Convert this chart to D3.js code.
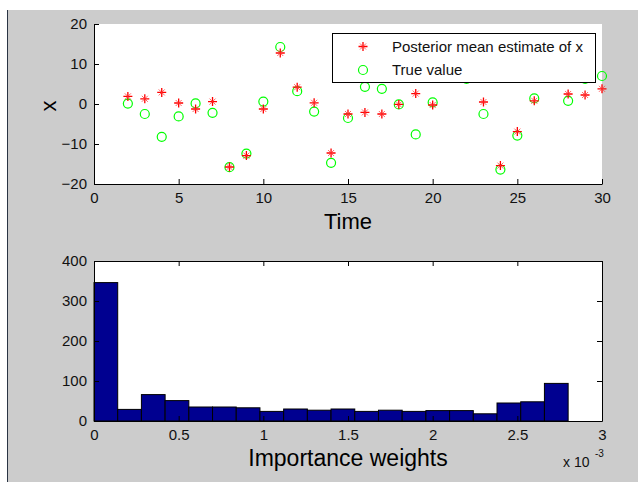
<!DOCTYPE html>
<html>
<head>
<meta charset="utf-8">
<script src="https://cdn.jsdelivr.net/npm/d3@7"></script>
<style>
  body { margin: 0; background: #fff; }
  svg { display: block; font-family: "Liberation Sans", Arial, sans-serif; }
</style>
</head>
<body>
<div id="chart"></div>
<script>
// Top panel: particle filter estimate vs. true state
const time     = [2, 3, 4, 5, 6, 7, 8, 9, 10, 11, 12, 13, 14, 15, 16, 17, 18, 19, 20, 21, 22, 23, 24, 25, 26, 27, 28, 29, 30];
const estimate = [1.9, 1.3, 2.9, 0.25, -1.25, 0.6, -15.75, -12.9, -1.25, 12.75, 4.2, 0.3, -12.25, -2.5, -2.1, -2.5, -0.1, 2.6, -0.25, 9, 7.5, 0.5, -15.4, -6.9, 0.8, 7, 2.5, 2.25, 3.8];
const truth    = [0.1, -2.5, -8.2, -3.1, 0.15, -2.2, -15.8, -12.4, 0.6, 14.25, 3.2, -1.9, -14.7, -3.5, 4.3, 3.8, -0.1, -7.6, 0.4, 10, 6.3, -2.5, -16.4, -7.9, 1.4, 8, 0.8, 6.3, 7.0];
const timeTicks = [0, 5, 10, 15, 20, 25, 30];
const xTicks    = [-20, -10, 0, 10, 20];

// Bottom panel: histogram of importance weights (edges in units of 1e-3)
const binEdges = [0, 0.14, 0.28, 0.42, 0.56, 0.70, 0.84, 0.98, 1.12, 1.26, 1.40, 1.54, 1.68, 1.82, 1.96, 2.10, 2.24, 2.38, 2.52, 2.66, 2.80];
const counts   = [346, 29, 66, 51, 35, 35, 33, 24, 30, 27, 30, 24, 27, 24, 26, 26, 18, 45, 48, 94];
const weightTicks = [0, 0.5, 1, 1.5, 2, 2.5, 3];
const countTicks  = [0, 100, 200, 300, 400];

const W = 638, H = 482;
const fmt = d3.format('~g');

const svg = d3.select('#chart').append('svg')
  .attr('width', W).attr('height', H);

// figure background
svg.append('rect').attr('width', W).attr('height', H).attr('fill', '#fff');
svg.append('rect').attr('x', 8).attr('y', 10).attr('width', W - 8).attr('height', H - 10).attr('fill', '#cccccc');
svg.append('line').attr('x1', 7.5).attr('x2', 7.5).attr('y1', 10).attr('y2', H)
  .attr('stroke', '#2a3444').attr('stroke-width', 1);

function styleAxis(g) {
  g.select('.domain').attr('stroke', '#000');
  g.selectAll('.tick line').attr('stroke', '#000');
  g.selectAll('.tick text').attr('fill', '#111').attr('font-size', 15);
  g.attr('font-family', null);
}

// ---------- top panel ----------
const xT = d3.scaleLinear().domain([0, 30]).range([94, 602]);
const yT = d3.scaleLinear().domain([-20, 20]).range([184, 24]);

svg.append('rect')
  .attr('x', xT(0)).attr('y', yT(20))
  .attr('width', xT(30) - xT(0)).attr('height', yT(-20) - yT(20))
  .attr('fill', '#fff');

svg.append('g').attr('transform', `translate(0,${yT(-20)})`)
  .call(d3.axisBottom(xT).tickValues(timeTicks).tickFormat(fmt).tickSize(-5).tickSizeOuter(0).tickPadding(8))
  .call(styleAxis);

svg.append('g').attr('transform', `translate(${xT(0)},0)`)
  .call(d3.axisLeft(yT).tickValues(xTicks).tickFormat(fmt).tickSize(-5).tickSizeOuter(0).tickPadding(7))
  .call(styleAxis);

// MATLAB-like '*' marker: strong plus, lighter diagonals
function drawStar(sel) {
  sel.append('path')
    .attr('d', 'M-4.5,0H4.5M0,-4.5V4.5')
    .attr('stroke', '#ff0000').attr('stroke-width', 1.3).attr('fill', 'none');
  sel.append('path')
    .attr('d', 'M-3,-3L3,3M-3,3L3,-3')
    .attr('stroke', '#ff3030').attr('stroke-width', 1).attr('stroke-opacity', 0.75).attr('fill', 'none');
}

svg.append('g').selectAll('circle')
  .data(time)
  .join('circle')
  .attr('cx', d => xT(d))
  .attr('cy', (d, i) => yT(truth[i]))
  .attr('r', 4.5)
  .attr('fill', 'none')
  .attr('stroke', '#00ff00')
  .attr('stroke-width', 1.2);

svg.append('g').selectAll('g')
  .data(time)
  .join('g')
  .attr('transform', (d, i) => `translate(${xT(d)},${yT(estimate[i])})`)
  .call(drawStar);

svg.append('text')
  .attr('x', (xT(0) + xT(30)) / 2).attr('y', 229)
  .attr('text-anchor', 'middle').attr('font-size', 22).attr('fill', '#000')
  .text('Time');

svg.append('text')
  .attr('transform', 'translate(56,106) rotate(-90)')
  .attr('text-anchor', 'middle').attr('font-size', 22).attr('fill', '#000')
  .text('x');

// legend
const leg = svg.append('g');
leg.append('rect')
  .attr('x', 332.5).attr('y', 33.5).attr('width', 263).attr('height', 49)
  .attr('fill', '#fff').attr('stroke', '#000').attr('stroke-width', 1);
leg.append('g').attr('transform', 'translate(363,46.5)').call(drawStar);
leg.append('circle')
  .attr('cx', 363).attr('cy', 70).attr('r', 4.5)
  .attr('fill', 'none').attr('stroke', '#00ff00').attr('stroke-width', 1.2);
leg.append('text').attr('x', 392).attr('y', 52).attr('font-size', 15).attr('fill', '#111')
  .text('Posterior mean estimate of x');
leg.append('text').attr('x', 392).attr('y', 75).attr('font-size', 15).attr('fill', '#111')
  .text('True value');

// ---------- bottom panel ----------
const xH = d3.scaleLinear().domain([0, 3]).range([94, 602]);
const yH = d3.scaleLinear().domain([0, 400]).range([421, 261]);

svg.append('rect')
  .attr('x', xH(0)).attr('y', yH(400))
  .attr('width', xH(3) - xH(0)).attr('height', yH(0) - yH(400))
  .attr('fill', '#fff');

svg.append('g').selectAll('rect')
  .data(counts)
  .join('rect')
  .attr('x', (d, i) => xH(binEdges[i]))
  .attr('width', (d, i) => xH(binEdges[i + 1]) - xH(binEdges[i]))
  .attr('y', d => yH(d))
  .attr('height', d => yH(0) - yH(d))
  .attr('fill', '#000090')
  .attr('stroke', '#000')
  .attr('stroke-width', 1);

svg.append('g').attr('transform', `translate(0,${yH(0)})`)
  .call(d3.axisBottom(xH).tickValues(weightTicks).tickFormat(fmt).tickSize(-5).tickSizeOuter(0).tickPadding(8))
  .call(styleAxis);

svg.append('g').attr('transform', `translate(0,${yH(400)})`)
  .call(d3.axisTop(xH).tickValues(weightTicks).tickSize(-5).tickSizeOuter(0).tickFormat(''))
  .call(styleAxis);

svg.append('g').attr('transform', `translate(${xH(0)},0)`)
  .call(d3.axisLeft(yH).tickValues(countTicks).tickFormat(fmt).tickSize(-5).tickSizeOuter(0).tickPadding(7))
  .call(styleAxis);

svg.append('g').attr('transform', `translate(${xH(3)},0)`)
  .call(d3.axisRight(yH).tickValues(countTicks).tickSize(-5).tickSizeOuter(0).tickFormat(''))
  .call(styleAxis);

svg.append('text')
  .attr('x', (xH(0) + xH(3)) / 2).attr('y', 466)
  .attr('text-anchor', 'middle').attr('font-size', 23).attr('fill', '#000')
  .text('Importance weights');

svg.append('text').attr('x', 563).attr('y', 467).attr('font-size', 14).attr('fill', '#111')
  .text('x 10');
svg.append('text').attr('x', 595).attr('y', 457).attr('font-size', 10).attr('fill', '#111')
  .text('-3');
</script>
</body>
</html>
